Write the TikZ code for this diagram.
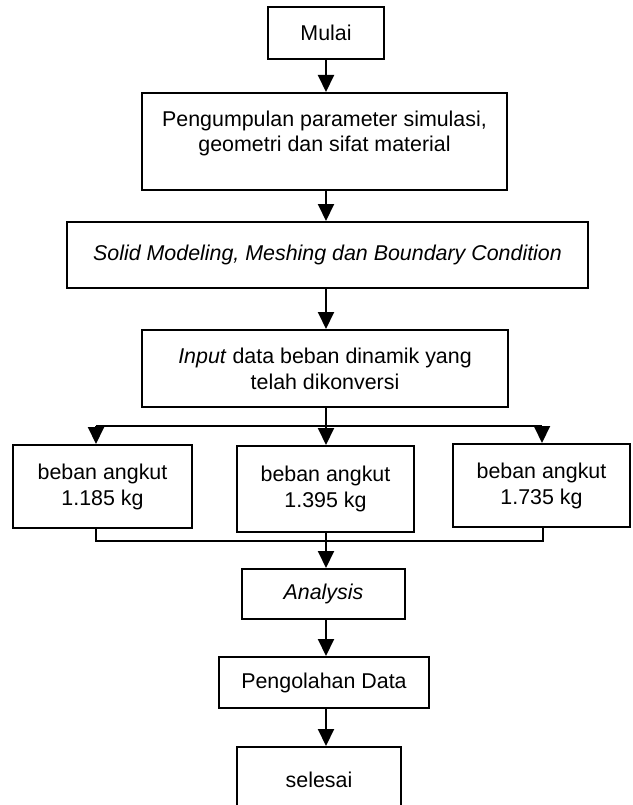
\documentclass[tikz,border=0pt]{standalone}
\usepackage{fontspec}
\setmainfont{Liberation Sans}
\usetikzlibrary{arrows.meta}
\begin{document}
\begin{tikzpicture}[x=1pt,y=-1pt,
  box/.style={draw, line width=2pt, inner sep=0pt, align=center, font=\fontsize{21.4}{26}\selectfont},
  txt/.style={inner sep=0pt, align=center, font=\fontsize{21.4}{25}\selectfont},
  arr/.style={line width=2pt, -{Triangle[width=16pt,length=17pt]}},
  ln/.style={line width=2pt}]
\useasboundingbox (0,0) rectangle (632,805);
\node[box, minimum width=116pt, minimum height=52pt] (mulai) at (326,33) {Mulai};
\node[box, minimum width=365pt, minimum height=97pt] (b2) at (324.5,141.5) {};
\node[txt] (b2t) at (324.5,133) {Pengumpulan parameter simulasi,\\geometri dan sifat material};
\node[box, minimum width=521pt, minimum height=66pt] (b3) at (327.5,255) {\itshape Solid Modeling, Meshing dan Boundary Condition};
\node[box, minimum width=366pt, minimum height=77pt] (b4) at (325,368.5) {\textit{Input} data beban dinamik yang\\telah dikonversi};
\node[box, minimum width=179pt, minimum height=83pt] (lb) at (102.5,486.5) {beban angkut\\1.185 kg};
\node[box, minimum width=177pt, minimum height=86pt] (mb) at (325.5,489) {beban angkut\\1.395 kg};
\node[box, minimum width=177pt, minimum height=83pt] (rb) at (541.5,485.5) {beban angkut\\1.735 kg};
\node[box, minimum width=163pt, minimum height=50pt] (an) at (323.5,594) {\itshape Analysis};
\node[box, minimum width=210pt, minimum height=51pt] (po) at (324,682.5) {Pengolahan Data};
\node[box, minimum width=164pt, minimum height=66pt] (se) at (319,780) {selesai};
\coordinate (tl) at (96,426);
\coordinate (tr) at (542,426);
\coordinate (bl) at (96,541);
\coordinate (br) at (543,541);
\draw[arr] (mulai.south) -- (mulai.south |- b2.north);
\draw[arr] (b2.south -| mulai.south) -- (mulai.south |- b3.north);
\draw[arr] (b3.south -| mulai.south) -- (mulai.south |- b4.north);
\draw[ln] (tl) -- (tr);
\draw[arr] (b4.south -| mulai.south) -- (mulai.south |- mb.north);
\draw[arr] (tl) -- (tl |- lb.north);
\draw[arr] (tr) -- (tr |- rb.north);
\draw[ln] (bl |- lb.south) -- (bl) -- (br) -- (br |- rb.south);
\draw[arr] (mb.south -| mulai.south) -- (mulai.south |- an.north);
\draw[arr] (an.south -| mulai.south) -- (mulai.south |- po.north);
\draw[arr] (po.south -| mulai.south) -- (mulai.south |- se.north);
\end{tikzpicture}
\end{document}
